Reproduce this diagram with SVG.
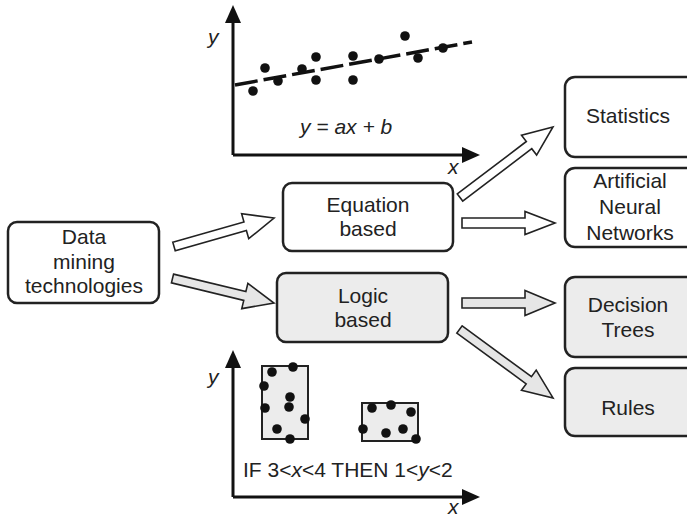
<svg xmlns="http://www.w3.org/2000/svg" width="687" height="517" viewBox="0 0 687 517">
<defs>
<style>
.box{fill:#fff;stroke:#222;stroke-width:2.5}
.gbox{fill:#ececec;stroke:#222;stroke-width:2.5}
.t{font-family:"Liberation Sans",Arial,sans-serif;font-size:21px;fill:#222;text-anchor:middle}
.ti{font-family:"Liberation Sans",Arial,sans-serif;font-size:21px;fill:#222;font-style:italic}
.ax{stroke:#111;stroke-width:3;fill:none}
.ah{fill:#111}
.dot{fill:#111}
.arr{fill:#fff;stroke:#222;stroke-width:1.6;stroke-linejoin:miter}
.garr{fill:#e6e6e6;stroke:#222;stroke-width:1.6;stroke-linejoin:miter}
.rect{fill:#ececec;stroke:#222;stroke-width:2}
</style>
</defs>
<rect width="687" height="517" fill="#fff"/>

<!-- top chart -->
<g id="chart-top">
<line class="ax" x1="233" y1="155" x2="233" y2="20"/>
<polygon class="ah" points="233,5 241,23 225,23"/>
<line class="ax" x1="233" y1="155" x2="463" y2="155"/>
<polygon class="ah" points="480,155 462,147 462,163"/>
<text class="ti" x="208" y="44">y</text>
<text class="ti" x="448" y="174">x</text>
<line x1="235" y1="85" x2="472" y2="42" stroke="#111" stroke-width="3.5" stroke-dasharray="23,6"/>
<circle class="dot" cx="253" cy="91" r="4.8"/>
<circle class="dot" cx="265" cy="68" r="4.8"/>
<circle class="dot" cx="278" cy="81" r="4.8"/>
<circle class="dot" cx="302" cy="69" r="4.8"/>
<circle class="dot" cx="316" cy="57" r="4.8"/>
<circle class="dot" cx="316" cy="80" r="4.8"/>
<circle class="dot" cx="353" cy="56" r="4.8"/>
<circle class="dot" cx="353" cy="80" r="4.8"/>
<circle class="dot" cx="379" cy="59" r="4.8"/>
<circle class="dot" cx="405" cy="36" r="4.8"/>
<circle class="dot" cx="418" cy="58" r="4.8"/>
<circle class="dot" cx="443" cy="48" r="4.8"/>
<text class="ti" x="300" y="134">y = ax + b</text>
</g>

<!-- bottom chart -->
<g id="chart-bottom">
<line class="ax" x1="233" y1="497" x2="233" y2="365"/>
<polygon class="ah" points="233,350 241,368 225,368"/>
<line class="ax" x1="233" y1="497" x2="463" y2="497"/>
<polygon class="ah" points="480,497 462,489 462,505"/>
<text class="ti" x="208" y="384">y</text>
<text class="ti" x="448" y="514">x</text>
<rect class="rect" x="262" y="366" width="46" height="73"/>
<rect class="rect" x="362" y="403" width="56" height="38"/>
<circle class="dot" cx="272" cy="372" r="4.8"/>
<circle class="dot" cx="293" cy="367" r="4.8"/>
<circle class="dot" cx="264" cy="386" r="4.8"/>
<circle class="dot" cx="290" cy="397" r="4.8"/>
<circle class="dot" cx="265" cy="408" r="4.8"/>
<circle class="dot" cx="289" cy="407" r="4.8"/>
<circle class="dot" cx="305" cy="419" r="4.8"/>
<circle class="dot" cx="277" cy="429" r="4.8"/>
<circle class="dot" cx="290" cy="439" r="4.8"/>
<circle class="dot" cx="372" cy="408" r="4.8"/>
<circle class="dot" cx="391" cy="405" r="4.8"/>
<circle class="dot" cx="411" cy="412" r="4.8"/>
<circle class="dot" cx="363" cy="429" r="4.8"/>
<circle class="dot" cx="386" cy="433" r="4.8"/>
<circle class="dot" cx="403" cy="429" r="4.8"/>
<circle class="dot" cx="416" cy="439" r="4.8"/>
<text x="243" y="477" font-family="Liberation Sans,Arial,sans-serif" font-size="21" fill="#222">IF 3&lt;<tspan font-style="italic">x</tspan>&lt;4 THEN 1&lt;<tspan font-style="italic">y</tspan>&lt;2</text>
</g>

<!-- nodes -->
<g id="data-mining">
<rect class="box" x="8" y="222" width="151" height="81" rx="9"/>
<text class="t" x="84" y="244">Data</text>
<text class="t" x="84" y="269">mining</text>
<text class="t" x="84" y="293">technologies</text>
</g>
<g id="equation">
<rect class="box" x="283" y="183" width="170" height="68" rx="9"/>
<text class="t" x="368" y="212">Equation</text>
<text class="t" x="368" y="236">based</text>
</g>
<g id="logic">
<rect class="gbox" x="277" y="273" width="171" height="69" rx="9"/>
<text class="t" x="363" y="303">Logic</text>
<text class="t" x="363" y="327">based</text>
</g>
<g id="statistics">
<rect class="box" x="565" y="77" width="140" height="80" rx="10"/>
<text class="t" x="628" y="123">Statistics</text>
</g>
<g id="ann">
<rect class="box" x="565" y="168" width="140" height="79" rx="10"/>
<text class="t" x="630" y="188">Artificial</text>
<text class="t" x="630" y="214">Neural</text>
<text class="t" x="630" y="240">Networks</text>
</g>
<g id="decision-trees">
<rect class="gbox" x="565" y="277" width="140" height="80" rx="10"/>
<text class="t" x="628" y="312">Decision</text>
<text class="t" x="628" y="337">Trees</text>
</g>
<g id="rules">
<rect class="gbox" x="565" y="368" width="140" height="68" rx="10"/>
<text class="t" x="628" y="415">Rules</text>
</g>

<!-- connectors -->
<g id="connectors">
<polygon class="arr" transform="translate(174,246.5) rotate(-15.9)" points="0,-4.5 74,-4.5 74,-13 104,0 74,13 74,4.5 0,4.5"/>
<polygon class="garr" transform="translate(172.5,278.5) rotate(13.6)" points="0,-4.5 74.4,-4.5 74.4,-13 104.4,0 74.4,13 74.4,4.5 0,4.5"/>
<polygon class="arr" transform="translate(460,197.5) rotate(-37.2)" points="0,-4.5 86.7,-4.5 86.7,-12.5 116.7,0 86.7,12.5 86.7,4.5 0,4.5"/>
<polygon class="arr" transform="translate(462,223)" points="0,-5 63,-5 63,-11.5 93,0 63,11.5 63,5 0,5"/>
<polygon class="garr" transform="translate(462,303)" points="0,-5 63,-5 63,-12.5 93,0 63,12.5 63,5 0,5"/>
<polygon class="garr" transform="translate(459.5,329.5) rotate(36.2)" points="0,-4.5 85.9,-4.5 85.9,-12.5 115.9,0 85.9,12.5 85.9,4.5 0,4.5"/>
</g>
</svg>
